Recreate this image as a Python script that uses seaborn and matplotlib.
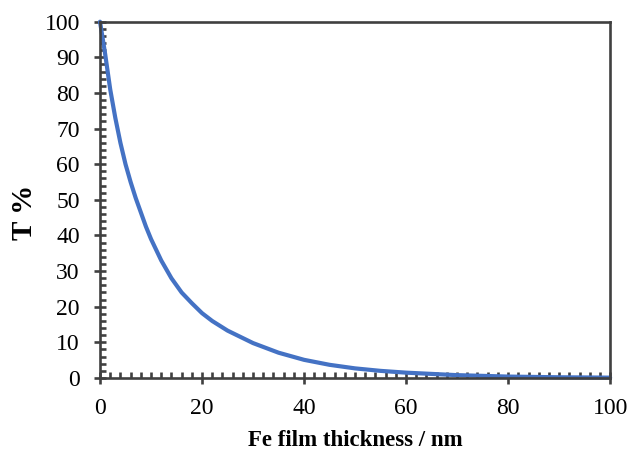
import matplotlib
matplotlib.use("Agg")
import matplotlib.pyplot as plt
from matplotlib.ticker import MultipleLocator
import seaborn as sns
import pandas as pd

# Transmittance of an Fe film versus its thickness
thickness_nm = [0, 1, 2, 3, 4, 5, 6, 7, 8, 9, 10, 12, 14, 16, 18, 20, 22,
                25, 30, 35, 40, 45, 50, 55, 60, 70, 80, 90, 100]
transmittance_pct = [100, 91, 81, 73, 66, 60, 55, 50.5, 46.5, 42.5, 39, 33,
                     28, 24, 21, 18.2, 16, 13.3, 9.8, 7.1, 5.1, 3.7, 2.7,
                     2.0, 1.5, 0.8, 0.4, 0.2, 0.1]

x_ticks = [0, 20, 40, 60, 80, 100]
y_ticks = [0, 10, 20, 30, 40, 50, 60, 70, 80, 90, 100]

df = pd.DataFrame({"thickness": thickness_nm, "T": transmittance_pct})

sns.set_style("white")
plt.rcParams["font.family"] = ["Liberation Serif", "DejaVu Serif"]

fig = plt.figure(figsize=(6.29, 4.54), dpi=100)
ax = fig.add_axes([0.159, 0.1674, 0.811, 0.7848])

sns.lineplot(data=df, x="thickness", y="T", ax=ax, color="#4472C4",
             linewidth=3.0, clip_on=False)

ax.set_xlim(0, 100)
ax.set_ylim(0, 100)
ax.set_xticks(x_ticks)
ax.set_yticks(y_ticks)
ax.xaxis.set_minor_locator(MultipleLocator(2))
ax.yaxis.set_minor_locator(MultipleLocator(2))

spine_color = "#404040"
for s in ax.spines.values():
    s.set_visible(True)
    s.set_color(spine_color)
    s.set_linewidth(1.9)

ax.tick_params(which="major", direction="inout", length=9, width=1.9,
               color=spine_color, labelsize=17, labelcolor="black")
ax.tick_params(axis="x", which="major", pad=10)
ax.tick_params(axis="y", which="major", pad=10)
ax.tick_params(which="minor", direction="in", length=4, width=1.9,
               color=spine_color)
ax.tick_params(axis="both", which="both", bottom=True, left=True,
               top=False, right=False)

ax.set_xlabel("Fe film thickness / nm", fontsize=16.5, fontweight="bold",
              labelpad=8, color="black")
ax.set_ylabel("T %", fontsize=21, fontweight="bold", color="black")
ax.yaxis.set_label_coords(-0.121, 0.466)

fig.savefig("out.png", dpi=100)
